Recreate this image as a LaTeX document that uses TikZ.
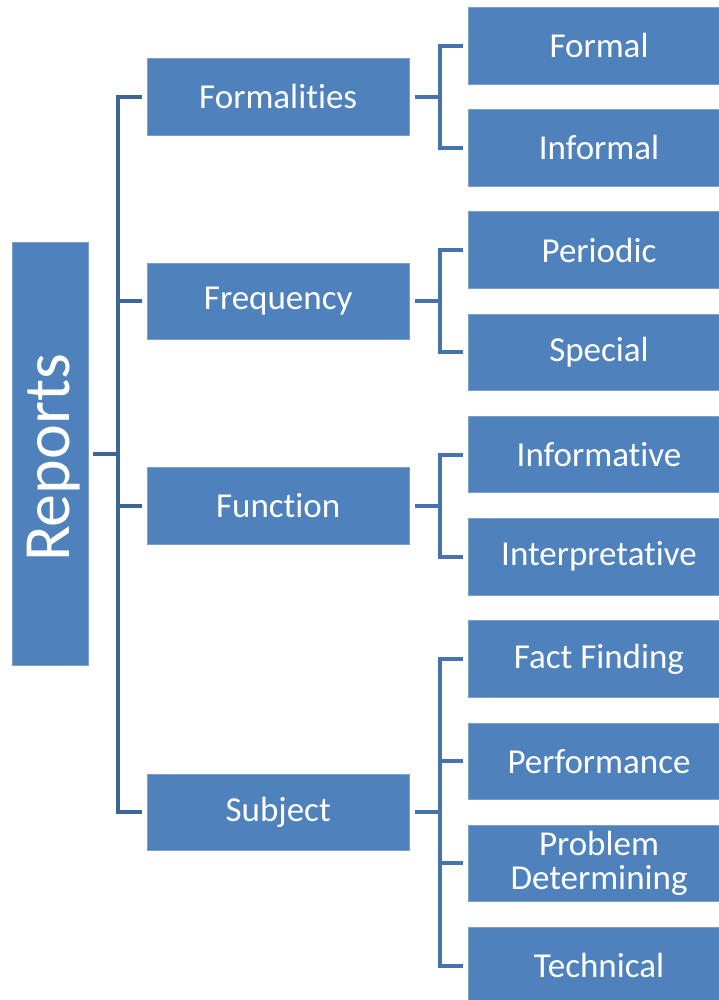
\documentclass[tikz,border=0pt]{standalone}
\usepackage{fontspec}
\setmainfont{Carlito}[Ligatures=NoCommon]
\definecolor{boxblue}{HTML}{4F81BD}
\definecolor{lineA}{HTML}{3E6597}
\definecolor{lineB}{HTML}{4773AC}
\begin{document}
\begin{tikzpicture}[x=1pt,y=-1pt,
  box/.style={draw=boxblue!75!white, line width=0.8pt, fill=boxblue, text=white, inner sep=0pt, align=center, font=\fontsize{35}{33.5}\selectfont},
  lvltwo/.style={box, minimum width=262pt, minimum height=76.5pt},
  lvlthree/.style={box, minimum width=262pt, minimum height=76.5pt},
  connA/.style={draw=lineA, line width=4pt},
  connB/.style={draw=lineB, line width=4pt}]
\useasboundingbox (0,0) rectangle (719,1000);
% root
\node[box, minimum width=76pt, minimum height=423pt] (rep) at (50,453.5) {};
\node[rotate=90, text=white, font=\fontsize{66}{66}\selectfont, inner sep=0pt] (reptxt) at ([xshift=4pt,yshift=-4.5pt]rep.center) {Reports};
% level 2
\node[lvltwo] (fo) at (278.2,96.85) {Formalities};
\node[lvltwo] (fr) at (278.2,301.25) {Frequency};
\node[lvltwo] (fu) at (278.2,505.65) {Function};
\node[lvltwo] (su) at (278.2,812.25) {Subject};
% level 3
\node[lvlthree] (a0) at (599,45.75) {Formal};
\node[lvlthree] (a1) at (599,147.95) {Informal};
\node[lvlthree] (a2) at (599,250.15) {Periodic};
\node[lvlthree] (a3) at (599,352.35) {Special};
\node[lvlthree] (a4) at (599,454.55) {Informative};
\node[lvlthree] (a5) at (599,556.75) {Interpretative};
\node[lvlthree] (a6) at (599,658.95) {Fact Finding};
\node[lvlthree] (a7) at (599,761.15) {Performance};
\node[lvlthree] (a8) at (599,863.35) {Problem\\Determining};
\node[lvlthree] (a9) at (599,965.55) {Technical};
% bus coordinates
\coordinate (busA) at (118,0);
\coordinate (busB) at (440,0);
% root connectors
\draw[connA] ([xshift=5pt]rep.east) -- (rep.east -| busA);
\draw[connA] ([xshift=-5pt]fo.west) -- (fo.west -| busA) -- (su.west -| busA) -- ([xshift=-5pt]su.west);
\draw[connA] (fr.west -| busA) -- ([xshift=-5pt]fr.west);
\draw[connA] (fu.west -| busA) -- ([xshift=-5pt]fu.west);
% level-2 connectors
\draw[connB] ([xshift=5pt]fo.east) -- (fo.east -| busB);
\draw[connB] ([xshift=-5pt]a0.west) -- (a0.west -| busB) -- (a1.west -| busB) -- ([xshift=-5pt]a1.west);
\draw[connB] ([xshift=5pt]fr.east) -- (fr.east -| busB);
\draw[connB] ([xshift=-5pt]a2.west) -- (a2.west -| busB) -- (a3.west -| busB) -- ([xshift=-5pt]a3.west);
\draw[connB] ([xshift=5pt]fu.east) -- (fu.east -| busB);
\draw[connB] ([xshift=-5pt]a4.west) -- (a4.west -| busB) -- (a5.west -| busB) -- ([xshift=-5pt]a5.west);
\draw[connB] ([xshift=5pt]su.east) -- (su.east -| busB);
\draw[connB] ([xshift=-5pt]a6.west) -- (a6.west -| busB) -- (a9.west -| busB) -- ([xshift=-5pt]a9.west);
\draw[connB] (a7.west -| busB) -- ([xshift=-5pt]a7.west);
\draw[connB] (a8.west -| busB) -- ([xshift=-5pt]a8.west);
\end{tikzpicture}
\end{document}
